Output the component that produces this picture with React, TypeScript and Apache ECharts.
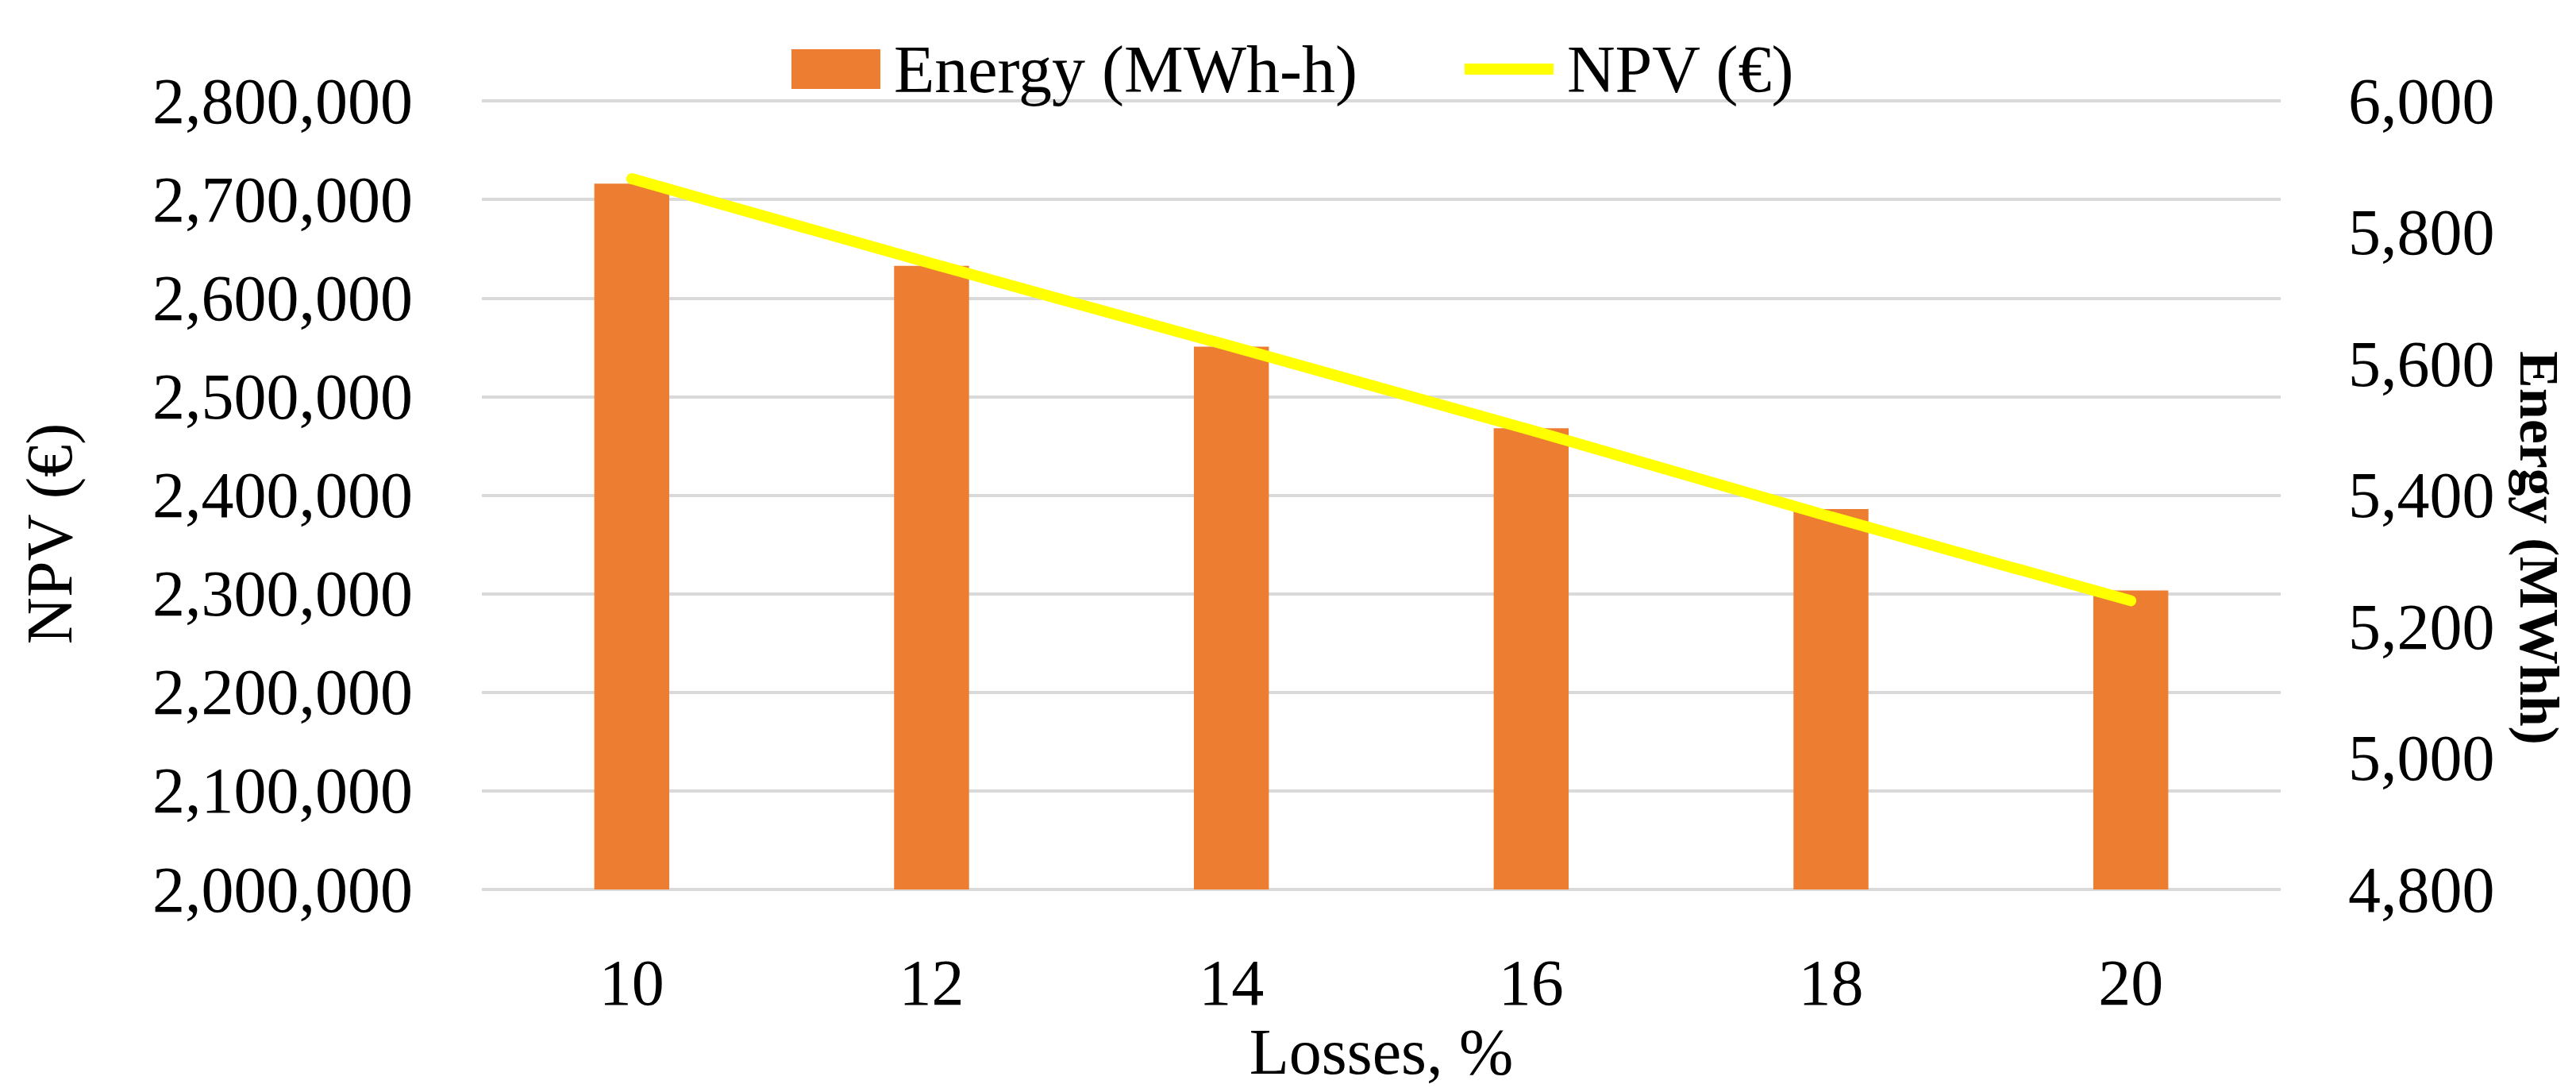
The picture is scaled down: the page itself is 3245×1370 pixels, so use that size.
import React, { useEffect, useRef } from "react";
import * as echarts from "echarts";

const categories = ["10", "12", "14", "16", "18", "20"];
const energyValues = [5874, 5749, 5626, 5502, 5379, 5255];
const npvValues = [2721000, 2635000, 2551000, 2466000, 2378000, 2293000];
const npvAxis = { min: 2000000, max: 2800000, interval: 100000 };
const energyAxis = { min: 4800, max: 6000, interval: 200 };
const seriesNames = { energy: "Energy (MWh-h)", npv: "NPV (€)" };
const axisTitles = { x: "Losses, %", left: "NPV (€)", right: "Energy (MWhh)" };

const FONT = "Liberation Serif";
const fmt = (v: number) => v.toLocaleString("en-US");

export default function App() {
  const ref = useRef<HTMLDivElement>(null);
  useEffect(() => {
    document.body.style.margin = "0";
    if (!ref.current) return;
    const chart = echarts.init(ref.current, undefined, { renderer: "svg" });
    chart.setOption({
      animation: false,
      backgroundColor: "#ffffff",
      textStyle: { fontFamily: FONT, color: "#000" },
      grid: { left: 607, right: 372, top: 127, bottom: 247, containLabel: false },
      legend: {
        left: 992,
        top: 40,
        itemWidth: 112,
        itemHeight: 50,
        itemGap: 135,
        symbolKeepAspect: true,
        textStyle: { fontFamily: FONT, fontSize: 84, color: "#000", padding: [0, 0, 0, 12] },
        data: [
          { name: seriesNames.energy, icon: "rect", itemStyle: { color: "#ed7d31" } },
          {
            name: seriesNames.npv,
            icon: "path://M0,0H112V14H0Z",
            itemStyle: { color: "#ffff00", borderWidth: 0 },
          },
        ],
      },
      xAxis: {
        type: "category",
        data: categories,
        axisLine: { show: false },
        axisTick: { show: false },
        axisLabel: { fontFamily: FONT, fontSize: 82, color: "#000", margin: 76 },
        name: axisTitles.x,
        nameLocation: "middle",
        nameGap: 146,
        nameTextStyle: { fontFamily: FONT, fontSize: 82, color: "#000" },
      },
      yAxis: [
        {
          type: "value",
          min: npvAxis.min,
          max: npvAxis.max,
          interval: npvAxis.interval,
          axisLine: { show: false },
          axisTick: { show: false },
          axisLabel: { fontFamily: FONT, fontSize: 82, color: "#000", margin: 87, formatter: fmt },
          splitLine: { show: true, lineStyle: { color: "#d9d9d9", width: 4 } },
        },
        {
          type: "value",
          position: "right",
          min: energyAxis.min,
          max: energyAxis.max,
          interval: energyAxis.interval,
          axisLine: { show: false },
          axisTick: { show: false },
          axisLabel: { fontFamily: FONT, fontSize: 82, color: "#000", margin: 85, formatter: fmt },
          splitLine: { show: false },
        },
      ],
      graphic: [
        {
          type: "text",
          x: 62,
          y: 672,
          rotation: Math.PI / 2,
          style: {
            text: axisTitles.left,
            fontFamily: FONT,
            fontSize: 82,
            fill: "#000",
            align: "center",
            verticalAlign: "middle",
          },
        },
        {
          type: "text",
          x: 3198,
          y: 690,
          rotation: -Math.PI / 2,
          style: {
            text: axisTitles.right,
            fontFamily: FONT,
            fontSize: 70,
            fontWeight: "bold",
            fill: "#000",
            align: "center",
            verticalAlign: "middle",
          },
        },
      ],
      series: [
        {
          name: seriesNames.energy,
          type: "bar",
          yAxisIndex: 1,
          data: energyValues,
          barWidth: "25%",
          itemStyle: { color: "#ed7d31" },
        },
        {
          name: seriesNames.npv,
          type: "line",
          yAxisIndex: 0,
          data: npvValues,
          symbol: "none",
          lineStyle: { color: "#ffff00", width: 14, cap: "round" },
          itemStyle: { color: "#ffff00" },
        },
      ],
    });
    return () => chart.dispose();
  }, []);
  return <div ref={ref} style={{ width: 3245, height: 1370 }} />;
}
